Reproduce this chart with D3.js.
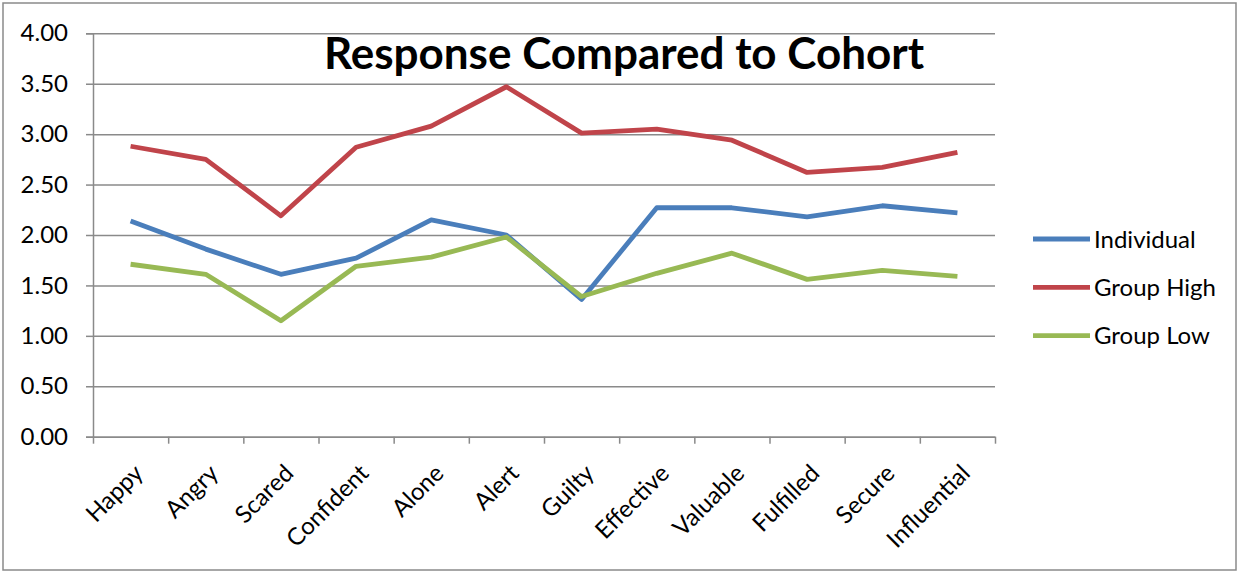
<!DOCTYPE html>
<html>
<head>
<meta charset="utf-8">
<script src="https://cdn.jsdelivr.net/npm/d3@7"></script>
<style>
  body { margin: 0; background: #fff; }
  svg { display: block; font-family: Lato, "Open Sans", sans-serif; }
  .grid line { stroke: #8a8a8a; stroke-width: 1.5; }
  .grid .domain { display: none; }
  .axis path, .axis line { stroke: #8a8a8a; stroke-width: 1.5; }
  .axis text { fill: #000; font-size: 24px; font-family: Lato, sans-serif; }
</style>
</head>
<body>
<svg id="chart"></svg>
<script>
// categories + series
var categories = ["Happy", "Angry", "Scared", "Confident", "Alone", "Alert",
                  "Guilty", "Effective", "Valuable", "Fulfilled", "Secure", "Influential"];
var individual = [2.14, 1.86, 1.61, 1.77, 2.15, 2.00, 1.36, 2.27, 2.27, 2.18, 2.29, 2.22];
var groupHigh  = [2.88, 2.75, 2.19, 2.87, 3.08, 3.47, 3.01, 3.05, 2.94, 2.62, 2.67, 2.82];
var groupLow   = [1.71, 1.61, 1.15, 1.69, 1.78, 1.98, 1.39, 1.62, 1.82, 1.56, 1.65, 1.59];
var yTicks = [0, 0.5, 1, 1.5, 2, 2.5, 3, 3.5, 4];

var seriesNames = ["Individual", "Group High", "Group Low"];
var seriesColors = ["#4a7ebb", "#c0444a", "#98b954"];

var W = 1241, H = 572;
var margin = {top: 33.3, left: 93, right: 246, bottom: 135.3};
var plotW = W - margin.left - margin.right,
    plotH = H - margin.top - margin.bottom;

var svg = d3.select("#chart")
  .attr("width", W)
  .attr("height", H);

// outer frame
svg.append("rect")
  .attr("x", 3).attr("y", 3)
  .attr("width", 1233).attr("height", 567)
  .attr("fill", "#fff")
  .attr("stroke", "#8a8a8a")
  .attr("stroke-width", 1.5);

var g = svg.append("g")
  .attr("transform", "translate(" + margin.left + "," + margin.top + ")");

var x = d3.scaleBand().domain(categories).range([0, plotW]);
var xEdge = d3.scaleLinear().domain([0, categories.length]).range([0, plotW]);
var y = d3.scaleLinear().domain([0, 4]).range([plotH, 0]);

// gridlines
g.append("g")
  .attr("class", "grid")
  .call(d3.axisLeft(y).tickValues(yTicks).tickSize(-plotW).tickFormat(""));

// y axis
g.append("g")
  .attr("class", "axis")
  .call(d3.axisLeft(y).tickValues(yTicks).tickSize(7).tickPadding(18)
          .tickFormat(d3.format(".2f")));

// x axis ticks at band edges
g.append("g")
  .attr("class", "axis")
  .attr("transform", "translate(0," + plotH + ")")
  .call(d3.axisBottom(xEdge).tickValues(d3.range(categories.length + 1))
          .tickSize(7).tickSizeOuter(0).tickFormat(""));

// rotated category labels
g.append("g")
  .attr("class", "axis")
  .selectAll("text")
  .data(categories)
  .enter().append("text")
    .attr("text-anchor", "end")
    .attr("transform", function(d) {
      return "translate(" + (x(d) + x.bandwidth() / 2 + 14) + "," + (plotH + 38) + ") rotate(-45)";
    })
    .text(function(d) { return d; });

// lines
var line = d3.line()
  .x(function(d, i) { return x(categories[i]) + x.bandwidth() / 2; })
  .y(function(d) { return y(d); });

[individual, groupHigh, groupLow].forEach(function(s, i) {
  g.append("path")
    .datum(s)
    .attr("fill", "none")
    .attr("stroke", seriesColors[i])
    .attr("stroke-width", 4.8)
    .attr("stroke-linejoin", "round")
    .attr("d", line);
});

// title
svg.append("text")
  .attr("x", 624)
  .attr("y", 69)
  .attr("text-anchor", "middle")
  .attr("font-size", 44)
  .attr("font-weight", "bold")
  .text("Response Compared to Cohort");

// legend
var legend = svg.selectAll(".legend")
  .data(seriesNames)
  .enter().append("g")
  .attr("class", "legend")
  .attr("transform", function(d, i) { return "translate(1033," + (239 + i * 48.3) + ")"; });

legend.append("line")
  .attr("x1", 0).attr("x2", 57)
  .attr("stroke", function(d, i) { return seriesColors[i]; })
  .attr("stroke-width", 4.8);

legend.append("text")
  .attr("x", 61)
  .attr("dy", "0.36em")
  .attr("font-size", 24)
  .text(function(d) { return d; });
</script>
</body>
</html>
